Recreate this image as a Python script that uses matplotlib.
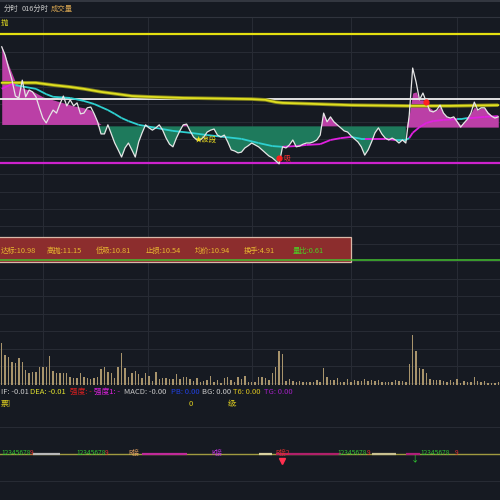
import numpy as np
import matplotlib.pyplot as plt
from matplotlib.patches import Rectangle

plt.rcParams['font.family'] = ['Noto Sans CJK SC', 'DejaVu Sans']

bg = '#161a22'
grid_c = '#272b34'

# ---- data ----
price = [11.117, 11.095, 11.061, 11.029, 10.987, 10.982, 11.029, 10.985, 11.003, 10.998,
         10.985, 10.956, 10.929, 10.916, 10.934, 10.950, 10.942, 10.966, 10.987, 10.961,
         10.977, 10.961, 10.969, 10.940, 10.942, 10.956, 10.958, 10.940, 10.919, 10.887,
         10.887, 10.911, 10.887, 10.863, 10.845, 10.826, 10.850, 10.863, 10.845, 10.826,
         10.866, 10.890, 10.911, 10.903, 10.897, 10.903, 10.911, 10.897, 10.876, 10.860,
         10.853, 10.876, 10.895, 10.911, 10.913, 10.895, 10.879, 10.871, 10.871, 10.879,
         10.892, 10.897, 10.900, 10.884, 10.879, 10.884, 10.866, 10.845, 10.842, 10.837,
         10.839, 10.850, 10.856,
         10.863, 10.858, 10.853, 10.845, 10.837, 10.829, 10.824, 10.816, 10.808,
         10.853, 10.850, 10.858, 10.871, 10.853, 10.855, 10.860, 10.863, 10.863, 10.866,
         10.871, 10.884, 10.942, 10.919, 10.932, 10.919, 10.911, 10.903, 10.895, 10.892,
         10.882, 10.874, 10.866, 10.853, 10.831, 10.845, 10.866, 10.890, 10.903, 10.887,
         10.876, 10.871, 10.876, 10.871, 10.863, 10.871, 10.863, 10.937, 11.061, 11.024,
         10.977, 10.995, 10.971, 10.948, 10.945, 10.950, 10.963, 10.942, 10.932, 10.929,
         10.932, 10.919, 10.905, 10.916, 10.926, 10.942, 10.971, 10.950, 10.956, 10.956,
         10.942, 10.934, 10.929, 10.932]

volume = [4170, 3000, 2830, 2330, 2170, 2670, 2330, 1500, 1170, 1330,
          1330, 1830, 1770, 1830, 2900, 1430, 1170, 1230, 1230, 1230,
          830, 670, 730, 1230, 830, 670, 600, 730, 830, 1600,
          1830, 1330, 1170, 670, 1830, 3170, 1670, 830, 1230, 1430,
          1100, 730, 1170, 930, 430, 1330, 600, 670, 670, 570,
          600, 1070, 570, 830, 770, 600, 400, 670, 330, 400,
          500, 900, 330, 500, 230, 670, 830, 500, 330, 830,
          570, 930, 330,
          330, 330, 770, 830, 670, 500, 1230, 1770, 3400, 3070,
          400, 600, 430, 270, 430, 270, 330, 330, 330, 500,
          330, 1730, 830, 500, 500, 670, 330, 330, 570, 330,
          500, 400, 400, 600, 400, 500, 430, 500, 330, 270,
          330, 270, 500, 400, 400, 270, 2070, 5000, 3430, 1670,
          1570, 1230, 600, 500, 500, 500, 430, 330, 500, 330,
          600, 230, 400, 330, 330, 830, 430, 330, 400, 230,
          230, 170, 330]

# average price line (均价)
avg_t = [0, 3, 4, 5, 10, 13, 15, 20, 24, 27, 29, 31, 33, 35, 37, 40, 45, 50, 55, 60,
         65, 70, 75, 79, 82, 86, 89, 93, 96, 99, 102, 105, 106, 112, 115, 118, 119, 120,
         122, 124, 126, 129, 133, 134, 136, 137, 141, 145]
avg_p = [11.006, 11.019, 11.016, 11.014, 11.006, 10.992, 10.985, 10.982, 10.974, 10.966,
         10.958, 10.950, 10.940, 10.929, 10.921, 10.911, 10.903, 10.895, 10.890, 10.884,
         10.879, 10.874, 10.863, 10.855, 10.853, 10.855, 10.858, 10.860, 10.871, 10.876,
         10.879, 10.874, 10.874, 10.874, 10.871, 10.871, 10.876, 10.890, 10.905, 10.916,
         10.921, 10.924, 10.926, 10.926, 10.929, 10.929, 10.932, 10.934]
avg_up = [(0, 4), (82, 102), (106, 115), (118.6, 133.4), (136, 145)]

# slow yellow line
ma_t = [0, 10, 15, 20, 24, 29, 34, 38, 43, 53, 73, 77, 80, 82, 92, 102, 119, 131, 145]
ma_p = [11.022, 11.022, 11.016, 11.011, 11.006, 10.998, 10.992, 10.987, 10.985, 10.982,
        10.979, 10.977, 10.971, 10.969, 10.966, 10.963, 10.961, 10.961, 10.963]

# pink band tops
left_t = [0, 2, 4, 6, 9, 12, 15, 18, 21, 24, 26, 27, 28, 29]
left_p = [11.119, 11.069, 11.024, 11.008, 11.000, 10.985, 10.977, 10.969, 10.961, 10.956,
          10.950, 10.940, 10.919, 10.912]
right_t = list(range(118, 146))
right_p = [10.905, 10.937, 10.995, 10.998, 10.977, 10.977, 10.966, 10.956, 10.950, 10.950,
           10.958, 10.942, 10.932, 10.929, 10.932, 10.921, 10.911, 10.919, 10.929, 10.942,
           10.958, 10.950, 10.956, 10.956, 10.945, 10.937, 10.932, 10.932]
band_base = [10.912, 10.907, 10.905]

gaopao, dabiao, dixi, zhisun_line = 11.15, 10.98, 10.81, 10.555
buy_mark = (81, 10.823)
sell_mark = (124, 10.971)

box_items = [('达标:10.98', '#e8b830'), ('高抛:11.15', '#e8b830'), ('低吸:10.81', '#e8b830'),
             ('止损:10.54', '#e8b830'), ('均价:10.94', '#e8b830'), ('换手:4.91', '#e8b830'),
             ('量比:0.61', '#4cd024')]
box_x = [1, 47, 96, 146, 195, 244, 293]

ind_items = [('IF: -0.01', '#c8c8c8'), ('DEA: -0.01', '#e0e030'), ('强度: -', '#e02020'),
             ('强度1: -', '#e020e0'), ('MACD: -0.00', '#c8c8c8'), ('PB: 0.00', '#2040e0'),
             ('BG: 0.00', '#c8c8c8'), ('T6: 0.00', '#d8c020'), ('TG: 0.00', '#a020c0')]
ind_x = [1, 30, 70, 94, 124, 171, 202, 233, 264]

sig_spans = [(9, 17, '#b8b8b8'), (41, 54, '#c02a9a'), (75, 79, '#d8d0a0'),
             (80, 99, '#b0206a'), (108, 115, '#c8c090'), (118, 122, '#b0207a')]
sig_labels = [(4.2, '12345678', '#30c030'), (8.8, '9', '#e03030'),
              (26.1, '12345678', '#30c030'), (30.7, '9', '#e03030'),
              (38.6, 'R接', '#e0a060'), (62.9, 'K接', '#c030e0'),
              (82.1, 'R接2', '#e03030'), (102.3, '12345678', '#30c030'),
              (107, '9', '#e03030'), (126.5, '12345678', '#30c030'),
              (132.8, '9', '#e03030')]

t = np.arange(len(price))
tv = np.arange(len(volume))
price = np.array(price)

fig = plt.figure(figsize=(5, 5), dpi=100, facecolor=bg)

# frame in pixel units: grid, header, box, labels
frame = fig.add_axes([0, 0, 1, 1])
frame.set_xlim(0, 500)
frame.set_ylim(500, 0)
frame.axis('off')
for y in np.arange(17, 386, 17.45):
    frame.axhline(y, color=grid_c, lw=0.8, zorder=0)
for y in [427, 481]:
    frame.axhline(y, color=grid_c, lw=0.8, zorder=0)
frame.vlines([43, 148, 252, 351, 457], 17, 385, color=grid_c, lw=0.8, zorder=0)
frame.axhline(0.8, color='#3a3e47', lw=1.2)
frame.axhline(16.5, color='#30343d', lw=0.8)
frame.text(4, 8.5, '分时', color='#c8c8c8', fontsize=5.3, va='center')
frame.text(22, 8.5, '016分时', color='#c8c8c8', fontsize=5.3, va='center')
frame.text(51, 8.5, '成交量', color='#d0a050', fontsize=5.3, va='center')
frame.text(1, 23, '抛', color='#e8e020', fontsize=5.3, va='center')

frame.add_patch(Rectangle((-2, 237), 353, 24.5, facecolor='#8c2d2d',
                          edgecolor='#d9b8a8', lw=0.9, zorder=1))
for (s, c), x in zip(box_items, box_x):
    frame.text(x, 251, s, color=c, fontsize=5.3, va='center', zorder=2)
for (s, c), x in zip(ind_items, ind_x):
    frame.text(x, 392, s, color=c, fontsize=5.5, va='center')
frame.text(1, 404, '票]', color='#e0d020', fontsize=5.5, va='center')
frame.text(189, 404, '0', color='#e0d020', fontsize=5.5, va='center')
frame.text(228, 404, '级:', color='#e0d020', fontsize=5.5, va='center')

# price panel
pax = fig.add_axes([0, 115 / 500, 1, 368 / 500])
pax.set_xlim(-0.5, 145.5)
pax.set_ylim(10.2242, 11.1957)
pax.axis('off')

pink, green = '#bb3fa6', '#1e7a5c'
pax.fill_between(left_t, left_p, band_base[0], color=pink, lw=0, zorder=1)
tm, pm = t[28:119], price[28:119]
pax.fill_between(tm, pm, band_base[1], where=pm < band_base[1], interpolate=True,
                 color=green, lw=0, zorder=1)
pax.fill_between(tm, pm, band_base[1], where=pm > band_base[1], interpolate=True,
                 color=pink, lw=0, zorder=1)
pax.fill_between(right_t, right_p, band_base[2], color=pink, lw=0, zorder=1)

pax.axhline(gaopao, color='#e4e010', lw=1.6, zorder=2)
pax.axhline(dabiao, color='#f2f2f2', lw=1.3, zorder=2)
pax.axhline(dixi, color='#cc22cc', lw=1.6, zorder=2)
pax.axhline(zhisun_line, color='#44c030', lw=1.1, zorder=2)

pax.plot(ma_t, ma_p, color='#85851c', lw=2.6, zorder=3, solid_capstyle='butt')
pax.plot(ma_t, ma_p, color='#e0e020', lw=1.3, zorder=3)

for i in range(len(avg_t) - 1):
    mid = (avg_t[i] + avg_t[i + 1]) / 2
    up = any(a <= mid <= b for a, b in avg_up)
    pax.plot(avg_t[i:i + 2], avg_p[i:i + 2], color='#e020e0' if up else '#2ed0d0',
             lw=1.3, zorder=3, solid_capstyle='butt')

pax.plot(t, price, color='#e6e6e6', lw=0.9, zorder=4)
pax.plot(*buy_mark, 'o', color='#ff2020', ms=3.5, zorder=5)
pax.text(buy_mark[0] + 1.2, buy_mark[1], '吸', color='#ff3030', fontsize=5, va='center', zorder=5)
pax.plot(*sell_mark, 'o', color='#ff2020', ms=3.5, zorder=5)
pax.text(59.5, 10.871, '★波段', color='#f0e020', fontsize=5.3, va='center', ha='center', zorder=5)

# volume panel
vax = fig.add_axes([0, 115 / 500, 1, 55 / 500])
vax.set_xlim(-0.5, 145.5)
vax.set_ylim(0, 5500)
vax.axis('off')
vax.bar(tv, volume, width=0.42, color='#a8946c', lw=0)

# signal panel
bax = fig.add_axes([0, 2 / 500, 1, 88 / 500])
bax.set_xlim(-0.5, 145.5)
bax.set_ylim(-1, 1)
bax.axis('off')
bax.axhline(0, color='#a09a40', lw=1.0)
for a, b, c in sig_spans:
    bax.plot([a, b], [0, 0], color=c, lw=1.6, solid_capstyle='butt')
for x, s, c in sig_labels:
    bax.text(x, 0.03, s, color=c, fontsize=4.8, ha='center', va='center')
bax.plot(81.8, -0.17, 'v', color='#ff3050', ms=5)
bax.text(120.7, -0.1, '↓', color='#30d030', fontsize=6, ha='center', va='center')

fig.savefig('out.png', dpi=100, facecolor=bg)
